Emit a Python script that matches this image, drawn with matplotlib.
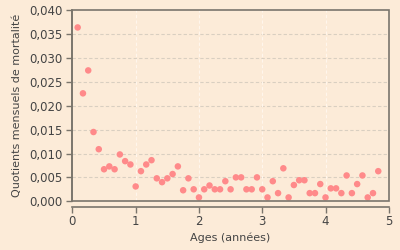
import matplotlib
matplotlib.use("Agg")
import matplotlib.pyplot as plt
from matplotlib.ticker import FuncFormatter
from matplotlib.patches import Rectangle

# monthly ages (k/12 years), k = 1..58
months = list(range(1, 59))
ages = [k / 12 for k in months]
quotients = [
    0.0364, 0.0226, 0.0274, 0.0145, 0.0109, 0.0067, 0.0073, 0.0067, 0.0098, 0.0084,
    0.0077, 0.0031, 0.0063, 0.0077, 0.0086, 0.0048, 0.0040, 0.0048, 0.0057, 0.0073,
    0.0023, 0.0048, 0.0025, 0.0008, 0.0025, 0.0033, 0.0025, 0.0025, 0.0042, 0.0025,
    0.0050, 0.0050, 0.0025, 0.0025, 0.0050, 0.0025, 0.0008, 0.0042, 0.0017, 0.0069,
    0.0008, 0.0034, 0.0044, 0.0044, 0.0017, 0.0017, 0.0036, 0.0008, 0.0027, 0.0027,
    0.0017, 0.0054, 0.0017, 0.0036, 0.0054, 0.0008, 0.0017, 0.0063,
]
xticks = [0, 1, 2, 3, 4, 5]
yticks = [0.000, 0.005, 0.010, 0.015, 0.020, 0.025, 0.030, 0.035, 0.040]

bg = "#fcebd8"
frame = "#7a756c"
txt = "#444444"

plt.rcParams['font.family'] = ['DejaVu Sans']

fig = plt.figure(figsize=(4, 2.5), dpi=100, facecolor=bg)
ax = fig.add_axes([0.181, 0.195, 0.791, 0.764], facecolor=bg)

ax.set_xlim(0, 5)
ax.set_ylim(0, 0.040)

# grid
for y in yticks[1:-1]:
    ax.axhline(y, color="#d9cfc1", lw=0.8, ls=(0, (3, 2)), zorder=1)
for x in xticks[1:-1]:
    ax.axvline(x, color="#fff6ec", lw=0.8, ls=(0, (3, 2)), zorder=1)

ax.scatter(ages, quotients, s=22, color="#ff8a8a", edgecolors="none", zorder=3, clip_on=False)

# plot frame
ax.add_patch(Rectangle((0, 0), 1, 1, transform=ax.transAxes, fill=False,
                       edgecolor=frame, lw=1.2, zorder=4, clip_on=False))

for s in ["top", "right"]:
    ax.spines[s].set_visible(False)
ax.spines["left"].set_color(frame)
ax.spines["left"].set_linewidth(1.2)
ax.spines["bottom"].set_color(frame)
ax.spines["bottom"].set_linewidth(1.2)
ax.spines["bottom"].set_position(("outward", 4))

ax.set_xticks(xticks)
ax.set_yticks(yticks)
ax.yaxis.set_major_formatter(FuncFormatter(lambda v, p: f"{v:.3f}".replace(".", ",")))
ax.tick_params(axis="both", colors=frame, labelcolor=txt, length=4, width=1.0, labelsize=8.5)
ax.tick_params(axis="x", pad=2)
ax.tick_params(axis="y", pad=3)

ax.set_xlabel("Ages (années)", color=txt, fontsize=8, labelpad=3)
ax.set_ylabel("Quotients mensuels de mortalité", color=txt, fontsize=8, labelpad=5)

fig.savefig("out.png", dpi=100, facecolor=bg)
